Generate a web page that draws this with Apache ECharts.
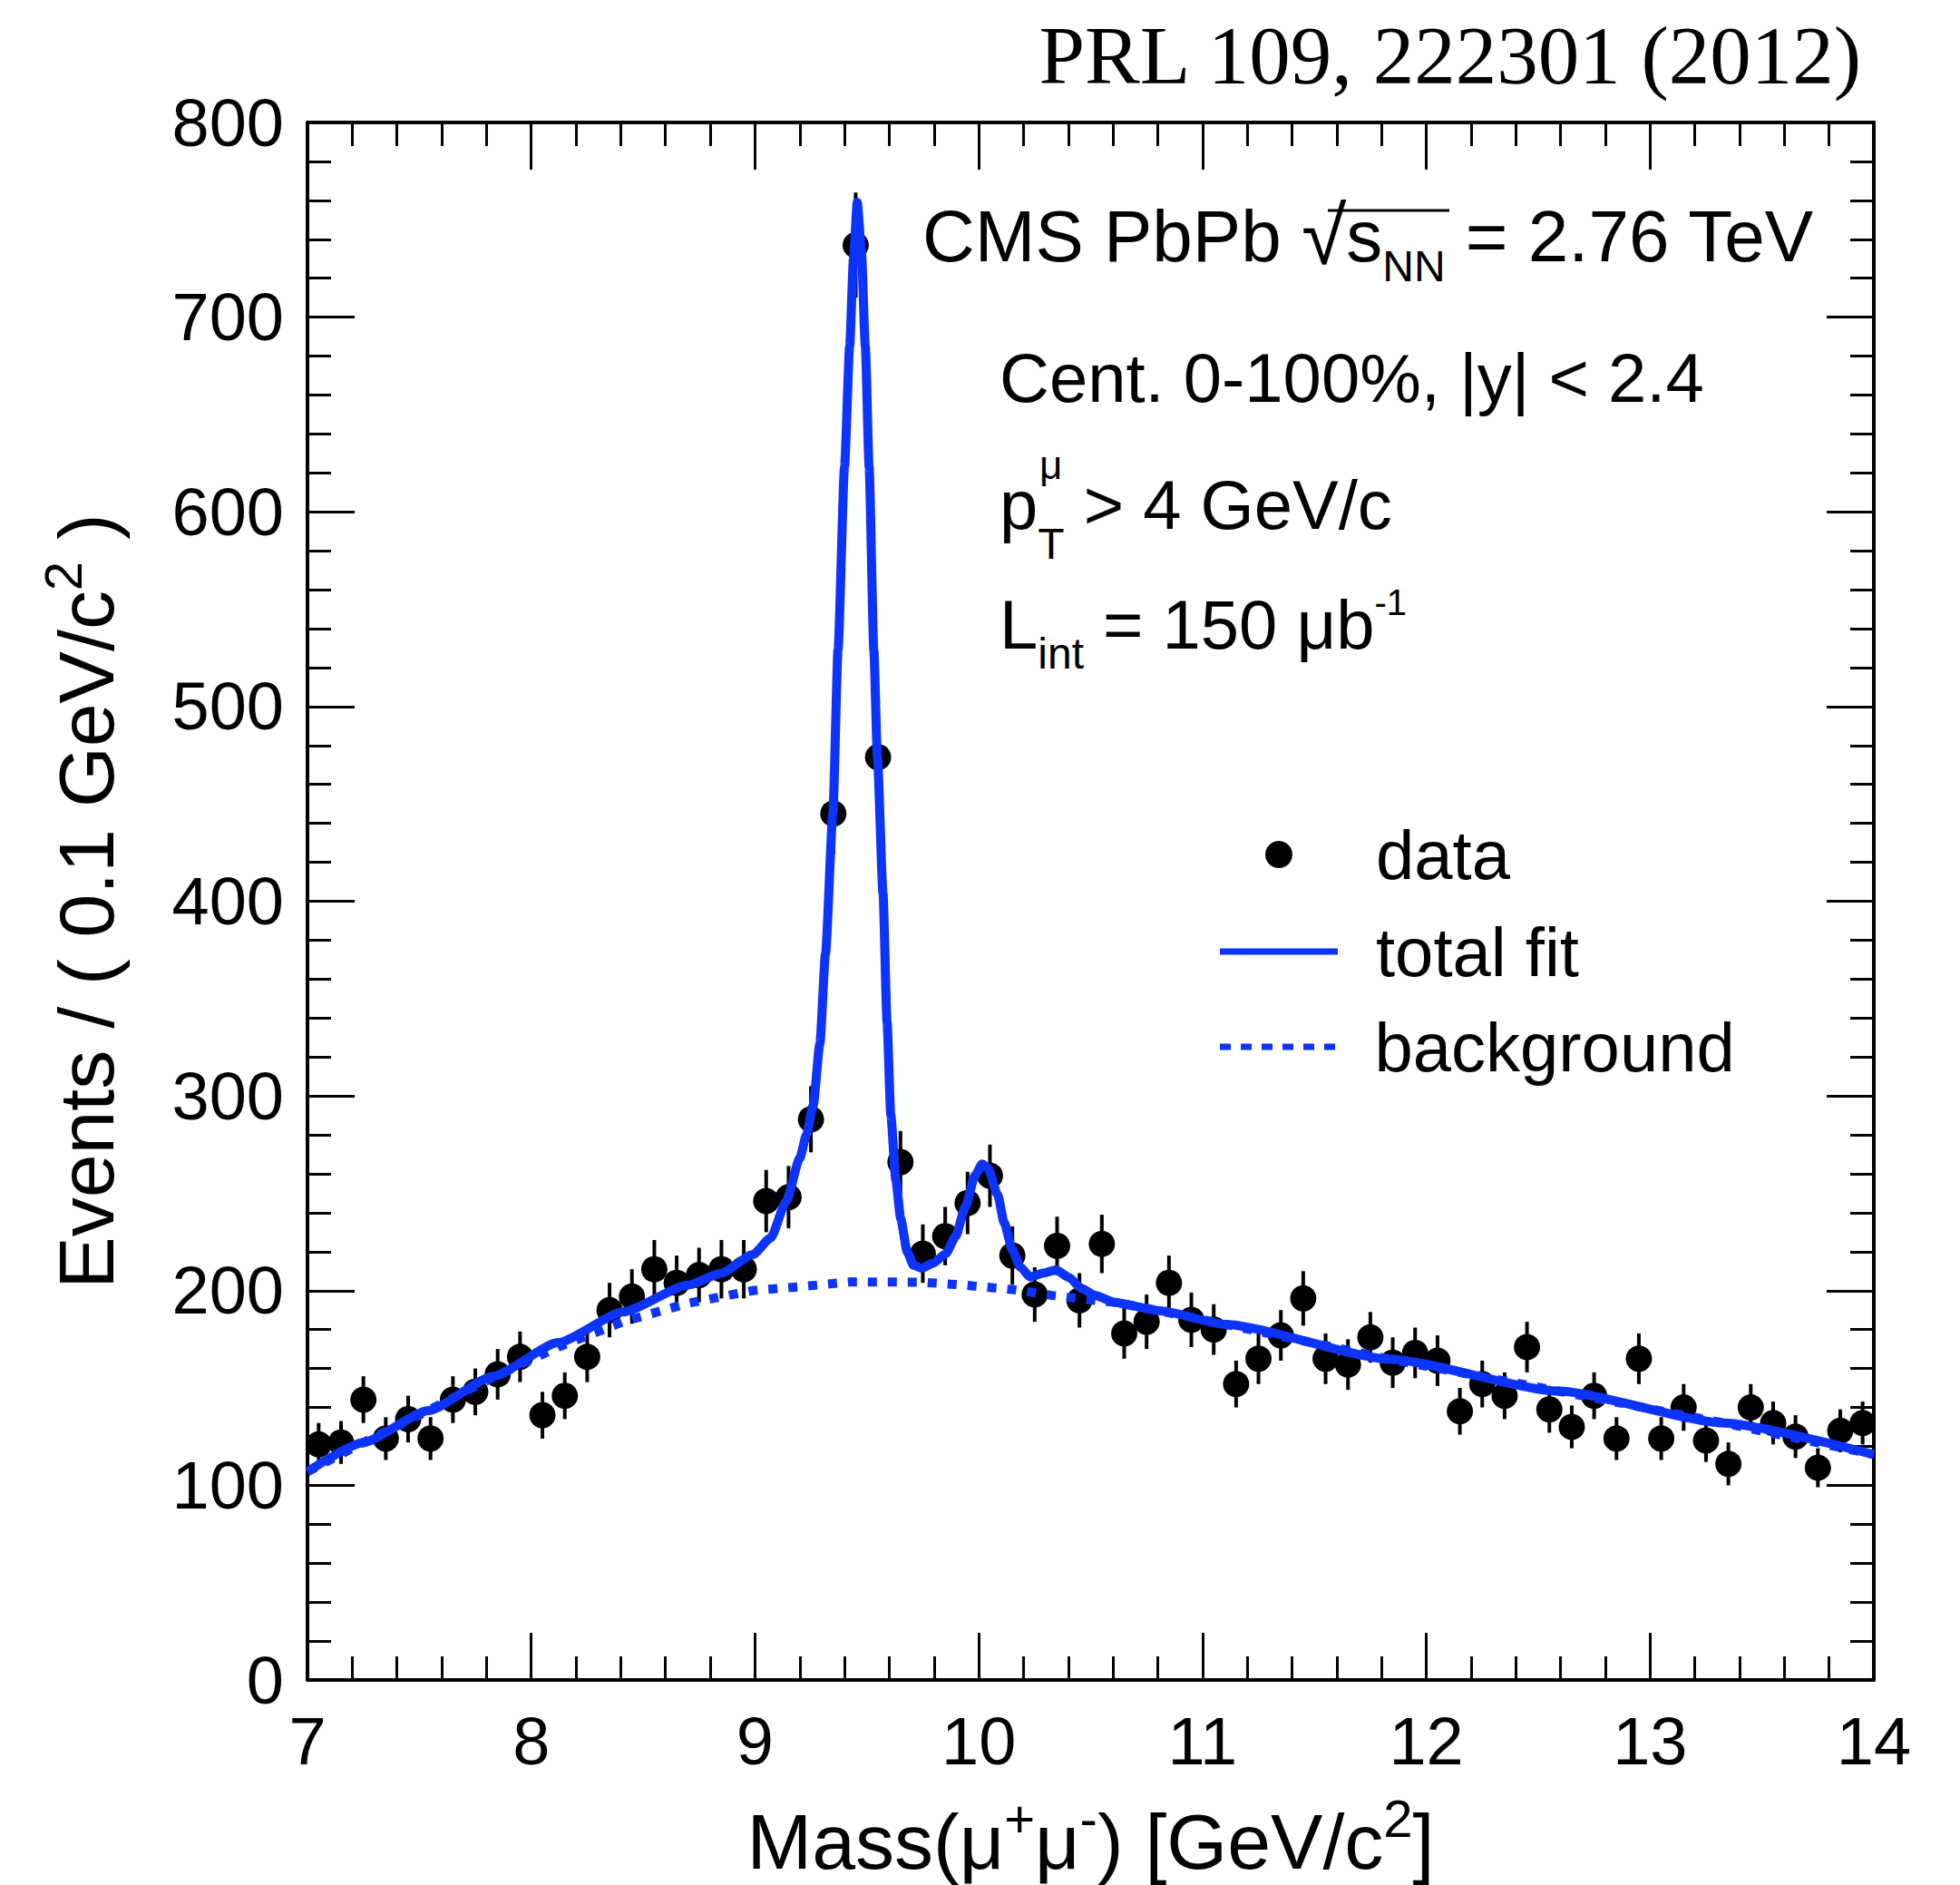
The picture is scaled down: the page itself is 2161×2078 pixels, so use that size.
<!DOCTYPE html>
<html>
<head>
<meta charset="utf-8">
<title>Upsilon PbPb mass spectrum</title>
<script src="https://cdn.jsdelivr.net/npm/echarts@6/dist/echarts.min.js"></script>
<style>
  html, body { margin: 0; padding: 0; background: #fff; }
  #chart { width: 2161px; height: 2078px; }
</style>
</head>
<body>
<div id="chart"></div>
<script>
// dimuon mass bins (0.1 GeV/c2 wide), centres
const massBins = [
  7.05, 7.15, 7.25, 7.35, 7.45, 7.55, 7.65, 7.75, 7.85, 7.95,
  8.05, 8.15, 8.25, 8.35, 8.45, 8.55, 8.65, 8.75, 8.85, 8.95,
  9.05, 9.15, 9.25, 9.35, 9.45, 9.55, 9.65, 9.75, 9.85, 9.95,
  10.05, 10.15, 10.25, 10.35, 10.45, 10.55, 10.65, 10.75, 10.85, 10.95,
  11.05, 11.15, 11.25, 11.35, 11.45, 11.55, 11.65, 11.75, 11.85, 11.95,
  12.05, 12.15, 12.25, 12.35, 12.45, 12.55, 12.65, 12.75, 12.85, 12.95,
  13.05, 13.15, 13.25, 13.35, 13.45, 13.55, 13.65, 13.75, 13.85, 13.95
];
const events = [
  121, 122, 144, 124, 134, 124, 144, 148, 157, 166,
  136, 146, 166, 190, 197, 211, 204, 208, 211, 211,
  246, 248, 288, 445, 737, 474, 266, 219, 228, 245,
  259, 218, 198, 223, 195, 224, 178, 184, 204, 185,
  180, 152, 165, 177, 196, 165, 162, 176, 163, 168,
  164, 138, 152, 146, 171, 139, 130, 146, 124, 165,
  124, 140, 123, 111, 140, 132, 125, 109, 128, 132
];
const eventErr = [
  11, 11, 12, 11, 12, 11, 12, 12, 13, 13,
  12, 12, 13, 14, 14, 15, 14, 14, 15, 15,
  16, 16, 17, 21, 27, 22, 16, 15, 15, 16,
  16, 15, 14, 15, 14, 15, 13, 14, 14, 14,
  13, 12, 13, 13, 14, 13, 13, 13, 13, 13,
  13, 12, 12, 12, 13, 12, 11, 12, 11, 13,
  11, 12, 11, 11, 12, 11, 11, 10, 11, 11
];

// total fit curve
const fitMass = [
  7.0, 7.25, 7.54, 7.83, 8.12, 8.41, 8.70, 8.85, 8.99, 9.07,
  9.14, 9.20, 9.23, 9.26, 9.29, 9.315, 9.348, 9.371, 9.40, 9.423,
  9.44, 9.457, 9.475, 9.493, 9.51, 9.531, 9.547, 9.572, 9.59, 9.607,
  9.629, 9.651, 9.68, 9.708, 9.745, 9.795, 9.853, 9.897, 9.94, 9.983,
  10.015, 10.041, 10.085, 10.113, 10.15, 10.186, 10.23, 10.287, 10.345, 10.403,
  10.46, 10.519, 10.606, 10.81, 11.1, 11.84, 12.59, 13.33, 14.0
];
const fitEvents = [
  107, 122, 138.4, 156, 173.3, 189, 202.8, 209, 218.5, 227,
  246, 268, 280, 295, 327, 373, 445, 529, 623, 685,
  730, 759, 735, 685, 623, 529, 474, 404, 338, 290,
  257, 237, 220, 213, 211.6, 214, 219, 228, 243, 259,
  265, 263, 249, 235, 221, 212, 207, 209, 210.6, 206.8,
  201, 197.6, 194, 189.6, 182.7, 164.7, 148.4, 132, 115.8
];

// background component (dotted)
const bkgMass = [
  7.0, 7.25, 7.54, 7.83, 8.12, 8.41, 8.70, 8.99, 9.2, 9.43,
  9.75, 9.94, 10.16, 10.33, 10.52, 10.606, 10.81, 11.1, 11.84, 12.59,
  13.33, 14.0
];
const bkgEvents = [
  107, 122, 138.4, 155.5, 171, 184, 193.5, 200, 202, 204.5,
  204.3, 202.8, 200.4, 197.5, 195, 194, 189.6, 182.7, 164.7, 148.4,
  132, 115.8
];

const xRange = [7, 14];
const yRange = [0, 800];

const SANS = '"Liberation Sans", Arial, Helvetica, sans-serif';
const SERIF = '"Liberation Serif", "Times New Roman", serif';
const BLUE = '#0d33ff';
const CURVE_WIDTH = 10;

// legend icons: plain bar for the fit, six dashes for the background
const ICON_SOLID = 'path://M0,0h130v7h-130z';
const ICON_DASHED = 'path://M0,0h12v7h-12zM23,0h12v7h-12zM46,0h12v7h-12zM69,0h12v7h-12zM92,0h12v7h-12zM115,0h12v7h-12z';

const chart = echarts.init(document.getElementById('chart'), null, { renderer: 'svg' });

function frameAxis(extra) {
  return Object.assign({
    type: 'value',
    axisLine: { show: true, onZero: false, lineStyle: { color: '#000', width: 4 } },
    axisTick: { show: true, inside: true, length: 52, lineStyle: { color: '#000', width: 3 } },
    minorTick: { show: true, splitNumber: 5, length: 26, lineStyle: { color: '#000', width: 3 } },
    splitLine: { show: false },
    minorSplitLine: { show: false }
  }, extra);
}

const titleRich = {
  m: { fontSize: 86, lineHeight: 110, fontFamily: SANS, color: '#000' },
  s: { fontSize: 58, lineHeight: 46, verticalAlign: 'top', fontFamily: SANS, color: '#000' }
};

const legendText = { fontSize: 76, fontFamily: SANS, color: '#000', padding: [0, 0, 0, 37] };

function errorBar(params, api) {
  const x = api.value(0);
  const y = api.value(1);
  const e = api.value(2);
  const lo = api.coord([x, y - e]);
  const hi = api.coord([x, y + e]);
  return {
    type: 'line',
    shape: { x1: lo[0], y1: lo[1], x2: hi[0], y2: hi[1] },
    style: { stroke: '#000', lineWidth: 4 }
  };
}

chart.setOption({
  animation: false,
  backgroundColor: '#fff',
  grid: { left: 339, top: 135, width: 1727, height: 1717 },
  xAxis: [
    frameAxis({
      position: 'bottom', min: xRange[0], max: xRange[1], interval: 1,
      axisLabel: { fontSize: 74, margin: 30, color: '#000', fontFamily: SANS },
      name: '{m|Mass(μ}{s|+}{m|μ}{s|-}{m|) [GeV/c}{s|2}{m|]}',
      nameLocation: 'middle', nameGap: 123,
      nameTextStyle: { fontSize: 86, fontFamily: SANS, color: '#000', rich: titleRich }
    }),
    frameAxis({
      position: 'top', min: xRange[0], max: xRange[1], interval: 1,
      axisLabel: { show: false }
    })
  ],
  yAxis: [
    frameAxis({
      position: 'left', min: yRange[0], max: yRange[1], interval: 100,
      axisLabel: { fontSize: 74, margin: 26, color: '#000', fontFamily: SANS },
      name: '{m|Events / ( 0.1 GeV/c}{s|2}{m| )}',
      nameLocation: 'middle', nameRotate: 90, nameGap: 189,
      nameTextStyle: { fontSize: 86, fontFamily: SANS, color: '#000', rich: titleRich }
    }),
    frameAxis({
      position: 'right', min: yRange[0], max: yRange[1], interval: 100,
      axisLabel: { show: false }
    })
  ],
  legend: [
    {
      data: [{ name: 'data', icon: 'circle' }], left: 1395, top: 904, padding: 0,
      itemWidth: 130, itemHeight: 30, symbolKeepAspect: true,
      selectedMode: false, textStyle: legendText
    },
    {
      data: [{ name: 'total fit', icon: ICON_SOLID }], left: 1345, top: 1011, padding: 0,
      itemWidth: 130, itemHeight: 7, symbolKeepAspect: true,
      selectedMode: false, textStyle: legendText
    },
    {
      data: [{ name: 'background', icon: ICON_DASHED }], left: 1345, top: 1116, padding: 0,
      itemWidth: 130, itemHeight: 7, symbolKeepAspect: true,
      selectedMode: false, textStyle: legendText
    }
  ],
  series: [
    {
      name: 'errors', type: 'custom', silent: true, z: 2,
      renderItem: errorBar,
      encode: { x: 0, y: 1 },
      data: massBins.map((m, i) => [m, events[i], eventErr[i]])
    },
    {
      name: 'data', type: 'scatter', z: 3,
      symbol: 'circle', symbolSize: 29,
      itemStyle: { color: '#000', opacity: 1 },
      data: massBins.map((m, i) => [m, events[i]])
    },
    {
      name: 'background', type: 'line', z: 4,
      symbol: 'none', showSymbol: false,
      itemStyle: { color: BLUE },
      lineStyle: { color: BLUE, width: CURVE_WIDTH, type: [10, 12], opacity: 1 },
      data: bkgMass.map((m, i) => [m, bkgEvents[i]])
    },
    {
      name: 'total fit', type: 'line', z: 5,
      symbol: 'none', showSymbol: false,
      smooth: 0.2, smoothMonotone: 'x',
      itemStyle: { color: BLUE },
      lineStyle: { color: BLUE, width: CURVE_WIDTH, opacity: 1 },
      data: fitMass.map((m, i) => [m, fitEvents[i]])
    }
  ],
  graphic: [
    {
      type: 'text', x: 2052, y: 61,
      style: { text: 'PRL 109, 222301 (2012)', fontSize: 91, fontFamily: SERIF, fill: '#000', align: 'right', verticalAlign: 'middle' }
    },
    {
      type: 'text', x: 1017, y: 260,
      style: {
        text: '{m|CMS PbPb }{r|√}{m|s}{sub|NN}{m| = 2.76 TeV}',
        align: 'left', verticalAlign: 'middle', fill: '#000',
        rich: {
          m: { fontSize: 80, lineHeight: 115, fontFamily: SANS, fill: '#000' },
          r: { fontSize: 90, fontFamily: SANS, fill: '#000' },
          sub: { fontSize: 48, verticalAlign: 'bottom', fontFamily: SANS, fill: '#000' }
        }
      }
    },
    {
      type: 'line',
      shape: { x1: 1464, y1: 232, x2: 1598, y2: 232 },
      style: { stroke: '#000', lineWidth: 3 }
    },
    {
      type: 'text', x: 1102, y: 416,
      style: { text: 'Cent. 0-100%, |y| < 2.4', fontSize: 76, fontFamily: SANS, fill: '#000', align: 'left', verticalAlign: 'middle' }
    },
    {
      type: 'text', x: 1102, y: 556,
      style: {
        text: '{m|p}{sub|T}{m| > 4 GeV/c}',
        align: 'left', verticalAlign: 'middle', fill: '#000',
        rich: {
          m: { fontSize: 76, lineHeight: 135, fontFamily: SANS, fill: '#000' },
          sub: { fontSize: 48, verticalAlign: 'bottom', fontFamily: SANS, fill: '#000' }
        }
      }
    },
    {
      type: 'text', x: 1146, y: 512,
      style: { text: 'μ', fontSize: 44, fontFamily: SANS, fill: '#000', align: 'left', verticalAlign: 'middle' }
    },
    {
      type: 'text', x: 1102, y: 688,
      style: {
        text: '{m|L}{sub|int}{m| = 150 μb}{sup|-1}',
        align: 'left', verticalAlign: 'middle', fill: '#000',
        rich: {
          m: { fontSize: 76, lineHeight: 113, fontFamily: SANS, fill: '#000' },
          sub: { fontSize: 48, verticalAlign: 'bottom', fontFamily: SANS, fill: '#000' },
          sup: { fontSize: 40, verticalAlign: 'top', padding: [12, 0, 0, 0], fontFamily: SANS, fill: '#000' }
        }
      }
    }
  ]
});
</script>
</body>
</html>
